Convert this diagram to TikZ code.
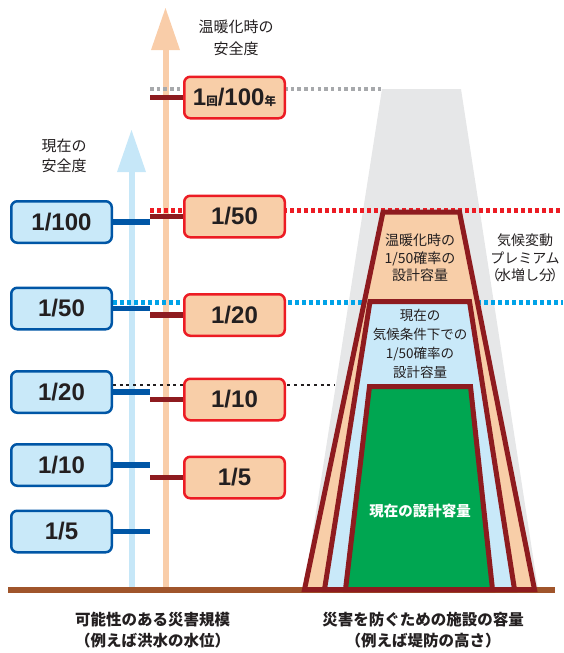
\documentclass[tikz,border=0pt]{standalone}
\usepackage{fontspec}
\setmainfont{Liberation Sans}
\newfontfamily\jp{Noto Sans CJK JP}
\definecolor{txt}{HTML}{231F20}
\definecolor{peach}{HTML}{F8CEA8}
\definecolor{lblue}{HTML}{C9E9F9}
\definecolor{bborder}{HTML}{0056A6}
\definecolor{rborder}{HTML}{EC1C24}
\definecolor{dred}{HTML}{8E1B1F}
\definecolor{gtrap}{HTML}{E6E7E8}
\definecolor{dgreen}{HTML}{00A651}
\definecolor{groundc}{HTML}{A0552B}
\definecolor{parrow}{HTML}{F9CDA9}
\definecolor{barrow}{HTML}{C6E7F8}
\definecolor{gdot}{HTML}{A7A9AC}
\definecolor{cdot}{HTML}{00A3E8}
\tikzset{
  bbox/.style={draw=bborder, line width=2.5pt, fill=lblue, rounded corners=6pt,
    minimum width=100.5pt, minimum height=41.5pt, inner sep=0pt,
    font=\bfseries\fontsize{24}{24}\selectfont, text=txt},
  pbox/.style={bbox, draw=rborder, fill=peach},
  bcon/.style={draw=bborder, line width=5.5pt},
  rcon/.style={draw=dred, line width=5.5pt},
  trap/.style={draw=dred, line width=5pt, line join=miter},
  jtxt/.style={text=txt, align=center, inner sep=0pt}
}
\newcommand{\smj}[1]{{\jp\bfseries\fontsize{11.5}{11.5}\selectfont #1}}
\begin{document}
\begin{tikzpicture}[x=1pt,y=-1pt]
\useasboundingbox (0,0) rectangle (563,653);
% gray trapezoid
\fill[gtrap] (382,89) -- (461,89) -- (538,589) -- (304,589) -- cycle;
% arrows
\fill[parrow] (162.5,590) rectangle (168.5,45);
\fill[parrow] (151,50) -- (165.5,8) -- (180,50) -- cycle;
\fill[barrow] (128.5,590) rectangle (134.5,168);
\fill[barrow] (117,172) -- (131.5,130) -- (146,172) -- cycle;
% ground
\draw[groundc, line width=6pt] (8,590) -- (555,590);
% dotted lines
\coordinate (jx) at (150,0);
\coordinate (gd1) at (150,89);
\coordinate (gd2) at (382,89);
\draw[gdot, line width=3.5pt, dash pattern=on 3.5pt off 3.2pt] (gd1) -- (gd2);
\coordinate (rd1) at (150,210.5);
\coordinate (rd2) at (563,210.5);
\draw[rborder, line width=5pt, dash pattern=on 3.5pt off 3.5pt] (rd1) -- (rd2);
\coordinate (cd1) at (113,302.5);
\coordinate (cd2) at (563,302.5);
\draw[cdot, line width=5pt, dash pattern=on 4pt off 3pt] (cd1) -- (cd2);
\coordinate (kd1) at (113,385);
\coordinate (kd2) at (335,385);
\draw[txt, line width=2.5pt, dash pattern=on 3pt off 3.7pt] (kd1) -- (kd2);
% trapezoids
\path[trap, fill=peach] (383,212) -- (459.5,212) -- (534.5,589.5) -- (304.5,589.5) -- cycle;
\path[trap, fill=lblue] (370,301.5) -- (469.5,301.5) -- (514.5,589.5) -- (324.5,589.5) -- cycle;
\path[trap, fill=dgreen] (369.5,386.5) -- (470.5,386.5) -- (492.5,589.5) -- (345.5,589.5) -- cycle;
% blue boxes
\node[bbox] (b100) at (61.5,222) {1/100};
\node[bbox] (b50) at (61.5,308.5) {1/50};
\node[bbox] (b20) at (61.5,392) {1/20};
\node[bbox] (b10) at (61.5,465) {1/10};
\node[bbox] (b5) at (61.5,531.5) {1/5};
% peach boxes
\node[pbox] (p100) at (234.5,97.5) {1\smj{回}/100\smj{年}};
\node[pbox] (p50) at (234.5,216.5) {1/50};
\node[pbox] (p20) at (234.5,315) {1/20};
\node[pbox] (p10) at (234.5,399.5) {1/10};
\node[pbox] (p5) at (234.5,477.5) {1/5};
% connectors
\draw[bcon] (b100.east) -- (b100.east -| jx);
\draw[bcon] (b50.east) -- (b50.east -| jx);
\draw[bcon] (b20.east) -- (b20.east -| jx);
\draw[bcon] (b10.east) -- (b10.east -| jx);
\draw[bcon] (b5.east) -- (b5.east -| jx);
\draw[rcon] (p100.west -| jx) -- (p100.west);
\draw[rcon] (p50.west -| jx) -- (p50.west);
\draw[rcon] (p20.west -| jx) -- (p20.west);
\draw[rcon] (p10.west -| jx) -- (p10.west);
\draw[rcon] (p5.west -| jx) -- (p5.west);
% texts
\node[jtxt, font=\jp\fontsize{15}{22}\selectfont] (tw) at (236,38) {温暖化時の\\安全度};
\node[jtxt, font=\jp\fontsize{15}{20}\selectfont] (tn) at (64,156) {現在の\\安全度};
\node[jtxt, font=\jp\fontsize{14}{17.5}\selectfont] (t1) at (420,258) {温暖化時の\\1/50確率の\\設計容量};
\node[jtxt, font=\jp\fontsize{14}{17.5}\selectfont] (t2) at (525,258) {気候変動\\プレミアム\\（\kern-2.5pt 水増し分\kern-2.5pt ）};
\node[jtxt, font=\jp\fontsize{13.5}{19}\selectfont] (t3) at (420,343.5) {現在の\\気候条件下での\\1/50確率の\\設計容量};
\node[jtxt, text=white, font=\jp\bfseries\fontsize{14.5}{18}\selectfont] (t4) at (420,511) {現在の設計容量};
\node[jtxt, font=\jp\bfseries\fontsize{15.5}{21}\selectfont] (t5) at (152.5,630) {可能性のある災害規模\\（例えば洪水の水位）};
\node[jtxt, font=\jp\bfseries\fontsize{15.5}{21}\selectfont] (t6) at (423,630) {災害を防ぐための施設の容量\\（例えば堤防の高さ）};
\end{tikzpicture}
\end{document}
